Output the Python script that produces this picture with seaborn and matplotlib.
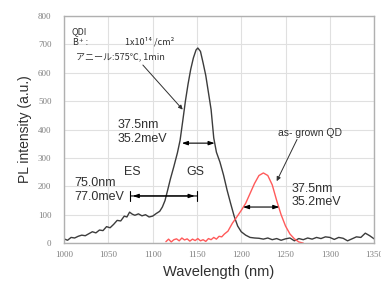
import numpy as np
import pandas as pd
import matplotlib
matplotlib.use("Agg")
import matplotlib.pyplot as plt
import seaborn as sns

# ---- data ----
anneal_wl = [1000, 1004, 1008, 1012, 1016, 1020, 1024, 1028, 1032, 1036, 1040, 1044,
             1048, 1052, 1056, 1060, 1064, 1068, 1071, 1074, 1077, 1080, 1084, 1088,
             1092, 1096, 1100, 1104, 1108, 1111, 1114, 1117, 1120, 1124, 1128, 1131,
             1134, 1137, 1140, 1143, 1146, 1149, 1151, 1154, 1157, 1160, 1163, 1166,
             1169, 1172, 1176, 1180, 1184, 1188, 1192, 1196, 1200, 1205, 1210, 1215,
             1220, 1225, 1230, 1235, 1240, 1245, 1250, 1255, 1260, 1265, 1270, 1275,
             1280, 1285, 1290, 1295, 1300, 1305, 1310, 1315, 1320, 1325, 1330, 1335,
             1340, 1345, 1350]
anneal_int = [15, 10, 20, 18, 24, 28, 26, 33, 40, 36, 46, 44,
              58, 54, 66, 80, 78, 95, 92, 109, 102, 98, 103, 96,
              100, 92, 95, 104, 112, 127, 150, 187, 225, 270, 318, 362,
              430, 500, 560, 612, 652, 680, 687, 675, 634, 590, 530, 470,
              370, 320, 285, 240, 187, 140, 95, 60, 40, 28, 20, 18,
              17, 14, 18, 12, 16, 10, 15, 18, 8, 16, 12, 18,
              14, 20, 16, 22, 20, 13, 20, 17, 8, 15, 22, 20,
              35, 26, 15]

grown_wl = [1115, 1118, 1121, 1124, 1127, 1130, 1133, 1136, 1139, 1142, 1145, 1148,
            1151, 1154, 1157, 1160, 1163, 1166, 1169, 1172, 1175, 1178, 1181, 1185,
            1190, 1195, 1200, 1205, 1210, 1215, 1220, 1225, 1230, 1235, 1240, 1245,
            1250, 1255, 1260, 1265, 1270]
grown_int = [5, 14, 4, 12, 15, 8, 18, 11, 15, 7, 14, 9,
             16, 8, 12, 6, 16, 12, 20, 14, 24, 22, 32, 42,
             70, 92, 115, 140, 175, 210, 238, 247, 238, 205, 150, 100,
             60, 32, 15, 4, 0]

x_ticks = [1000, 1050, 1100, 1150, 1200, 1250, 1300, 1350]
y_ticks = [0, 100, 200, 300, 400, 500, 600, 700, 800]

df_a = pd.DataFrame({"wl": anneal_wl, "pl": anneal_int})
df_g = pd.DataFrame({"wl": grown_wl, "pl": grown_int})

sns.set_style("whitegrid")
plt.rcParams["font.family"] = ["Liberation Sans", "Noto Sans CJK JP", "DejaVu Sans"]

fig = plt.figure(figsize=(3.81, 2.84), dpi=100)
ax = fig.add_axes([0.168, 0.144, 0.814, 0.800])

sns.lineplot(data=df_a, x="wl", y="pl", ax=ax, color="#3c3c3c", linewidth=1.0)
sns.lineplot(data=df_g, x="wl", y="pl", ax=ax, color="#ff5a5a", linewidth=1.0)

ax.set_xlim(1000, 1350)
ax.set_ylim(0, 800)
ax.set_xticks(x_ticks)
ax.set_yticks(y_ticks)
ax.set_xticklabels([str(v) for v in x_ticks], family="Liberation Serif", fontsize=6.5, color="#808080")
ax.set_yticklabels([str(v) for v in y_ticks], family="Liberation Serif", fontsize=6.5, color="#808080")
ax.tick_params(axis="x", length=0, pad=6)
ax.tick_params(axis="y", length=0, pad=9)
ax.grid(True, color="#e0e0e0", linewidth=0.8)
for s in ax.spines.values():
    s.set_visible(True)
    s.set_color("#b0b0b0")
    s.set_linewidth(1.0)

ax.set_xlabel("Wavelength (nm)", fontsize=10.5, color="#303030", labelpad=4)
ax.set_ylabel("PL intensity (a.u.)", fontsize=10, color="#303030", labelpad=4)

tc = "#303030"
# FWHM of annealed QD
ax.annotate("", xy=(1133, 352), xytext=(1170, 352),
            arrowprops=dict(arrowstyle="<|-|>,head_length=0.35,head_width=0.12",
                            color="black", lw=0.8, shrinkA=0, shrinkB=0))
ax.text(1060, 391, "37.5nm\n35.2meV", fontsize=9, color=tc, ha="left", va="center",
        linespacing=1.15)

# ES-GS separation
ax.annotate("", xy=(1076, 166), xytext=(1149, 166),
            arrowprops=dict(arrowstyle="<|-|>,head_length=0.35,head_width=0.12",
                            color="black", lw=0.8, shrinkA=1, shrinkB=1))
ax.annotate("", xy=(1075, 166), xytext=(1150, 166),
            arrowprops=dict(arrowstyle="|-|,widthA=0.35,widthB=0.35",
                            color="black", lw=0.8, shrinkA=0, shrinkB=0))
ax.text(1077, 252, "ES", fontsize=9, color=tc, ha="center", va="center")
ax.text(1148, 252, "GS", fontsize=9, color=tc, ha="center", va="center")
ax.text(1012, 187, "75.0nm\n77.0meV", fontsize=9, color=tc, ha="left", va="center",
        linespacing=1.15)

# FWHM of as-grown QD
ax.annotate("", xy=(1202, 127), xytext=(1243, 127),
            arrowprops=dict(arrowstyle="<|-|>,head_length=0.35,head_width=0.12",
                            color="black", lw=0.8, shrinkA=0, shrinkB=0))
ax.text(1257, 167, "37.5nm\n35.2meV", fontsize=9, color=tc, ha="left", va="center",
        linespacing=1.15)
ax.text(1242, 388, "as- grown QD", fontsize=7.5, color=tc, ha="left", va="center")
ax.annotate("", xy=(1240, 218), xytext=(1263, 365),
            arrowprops=dict(arrowstyle="-|>,head_length=0.25,head_width=0.12",
                            color="#303030", lw=0.7, shrinkA=0, shrinkB=0))

# sample info
fam = ["Noto Sans CJK JP", "DejaVu Sans"]
ax.text(1008, 745, "QDI", fontsize=6.5, color=tc, ha="left", va="center", family=fam)
ax.text(1010, 708, "B⁺ :", fontsize=6.5, color=tc, ha="left", va="center", family=fam)
ax.text(1069, 708, "1x10¹⁴ /cm²", fontsize=6.5, color=tc, ha="left", va="center", family=fam)
ax.text(1013, 655, "アニール:575℃, 1min", fontsize=6.5, color=tc, ha="left", va="center", family=fam)
ax.annotate("", xy=(1134, 470), xytext=(1089, 627),
            arrowprops=dict(arrowstyle="-|>,head_length=0.25,head_width=0.12",
                            color="#303030", lw=0.7, shrinkA=0, shrinkB=0))

fig.savefig("out.png", dpi=100)
